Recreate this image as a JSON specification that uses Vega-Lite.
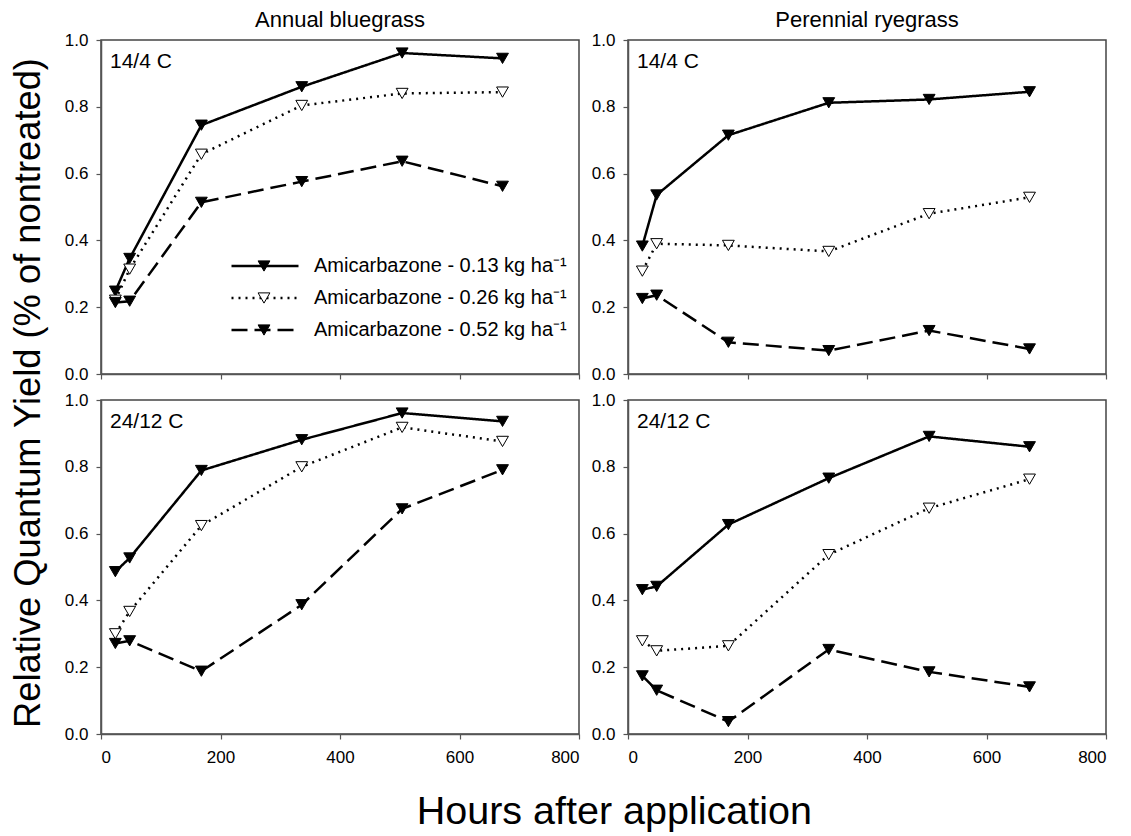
{
  "$schema": "https://vega.github.io/schema/vega-lite/v6.json",
  "padding": {"left": 11, "top": 8, "right": 20, "bottom": 4},
  "data": {"values": [
    {"sp": "Annual bluegrass", "temp": "14/4 C", "rate": 0.13, "h": 24, "y": 0.248},
    {"sp": "Annual bluegrass", "temp": "14/4 C", "rate": 0.13, "h": 48, "y": 0.346},
    {"sp": "Annual bluegrass", "temp": "14/4 C", "rate": 0.13, "h": 168, "y": 0.745},
    {"sp": "Annual bluegrass", "temp": "14/4 C", "rate": 0.13, "h": 336, "y": 0.86},
    {"sp": "Annual bluegrass", "temp": "14/4 C", "rate": 0.13, "h": 504, "y": 0.961},
    {"sp": "Annual bluegrass", "temp": "14/4 C", "rate": 0.13, "h": 672, "y": 0.945},
    {"sp": "Annual bluegrass", "temp": "14/4 C", "rate": 0.26, "h": 24, "y": 0.221},
    {"sp": "Annual bluegrass", "temp": "14/4 C", "rate": 0.26, "h": 48, "y": 0.314},
    {"sp": "Annual bluegrass", "temp": "14/4 C", "rate": 0.26, "h": 168, "y": 0.658},
    {"sp": "Annual bluegrass", "temp": "14/4 C", "rate": 0.26, "h": 336, "y": 0.804},
    {"sp": "Annual bluegrass", "temp": "14/4 C", "rate": 0.26, "h": 504, "y": 0.84},
    {"sp": "Annual bluegrass", "temp": "14/4 C", "rate": 0.26, "h": 672, "y": 0.844},
    {"sp": "Annual bluegrass", "temp": "14/4 C", "rate": 0.52, "h": 24, "y": 0.214},
    {"sp": "Annual bluegrass", "temp": "14/4 C", "rate": 0.52, "h": 48, "y": 0.218},
    {"sp": "Annual bluegrass", "temp": "14/4 C", "rate": 0.52, "h": 168, "y": 0.514},
    {"sp": "Annual bluegrass", "temp": "14/4 C", "rate": 0.52, "h": 336, "y": 0.576},
    {"sp": "Annual bluegrass", "temp": "14/4 C", "rate": 0.52, "h": 504, "y": 0.637},
    {"sp": "Annual bluegrass", "temp": "14/4 C", "rate": 0.52, "h": 672, "y": 0.562},
    {"sp": "Perennial ryegrass", "temp": "14/4 C", "rate": 0.13, "h": 24, "y": 0.383},
    {"sp": "Perennial ryegrass", "temp": "14/4 C", "rate": 0.13, "h": 48, "y": 0.536},
    {"sp": "Perennial ryegrass", "temp": "14/4 C", "rate": 0.13, "h": 168, "y": 0.715},
    {"sp": "Perennial ryegrass", "temp": "14/4 C", "rate": 0.13, "h": 336, "y": 0.812},
    {"sp": "Perennial ryegrass", "temp": "14/4 C", "rate": 0.13, "h": 504, "y": 0.822},
    {"sp": "Perennial ryegrass", "temp": "14/4 C", "rate": 0.13, "h": 672, "y": 0.845},
    {"sp": "Perennial ryegrass", "temp": "14/4 C", "rate": 0.26, "h": 24, "y": 0.308},
    {"sp": "Perennial ryegrass", "temp": "14/4 C", "rate": 0.26, "h": 48, "y": 0.39},
    {"sp": "Perennial ryegrass", "temp": "14/4 C", "rate": 0.26, "h": 168, "y": 0.385},
    {"sp": "Perennial ryegrass", "temp": "14/4 C", "rate": 0.26, "h": 336, "y": 0.367},
    {"sp": "Perennial ryegrass", "temp": "14/4 C", "rate": 0.26, "h": 504, "y": 0.48},
    {"sp": "Perennial ryegrass", "temp": "14/4 C", "rate": 0.26, "h": 672, "y": 0.529},
    {"sp": "Perennial ryegrass", "temp": "14/4 C", "rate": 0.52, "h": 24, "y": 0.226},
    {"sp": "Perennial ryegrass", "temp": "14/4 C", "rate": 0.52, "h": 48, "y": 0.236},
    {"sp": "Perennial ryegrass", "temp": "14/4 C", "rate": 0.52, "h": 168, "y": 0.095},
    {"sp": "Perennial ryegrass", "temp": "14/4 C", "rate": 0.52, "h": 336, "y": 0.07},
    {"sp": "Perennial ryegrass", "temp": "14/4 C", "rate": 0.52, "h": 504, "y": 0.13},
    {"sp": "Perennial ryegrass", "temp": "14/4 C", "rate": 0.52, "h": 672, "y": 0.075},
    {"sp": "Annual bluegrass", "temp": "24/12 C", "rate": 0.13, "h": 24, "y": 0.486},
    {"sp": "Annual bluegrass", "temp": "24/12 C", "rate": 0.13, "h": 48, "y": 0.527},
    {"sp": "Annual bluegrass", "temp": "24/12 C", "rate": 0.13, "h": 168, "y": 0.789},
    {"sp": "Annual bluegrass", "temp": "24/12 C", "rate": 0.13, "h": 336, "y": 0.881},
    {"sp": "Annual bluegrass", "temp": "24/12 C", "rate": 0.13, "h": 504, "y": 0.961},
    {"sp": "Annual bluegrass", "temp": "24/12 C", "rate": 0.13, "h": 672, "y": 0.936},
    {"sp": "Annual bluegrass", "temp": "24/12 C", "rate": 0.26, "h": 24, "y": 0.30},
    {"sp": "Annual bluegrass", "temp": "24/12 C", "rate": 0.26, "h": 48, "y": 0.367},
    {"sp": "Annual bluegrass", "temp": "24/12 C", "rate": 0.26, "h": 168, "y": 0.624},
    {"sp": "Annual bluegrass", "temp": "24/12 C", "rate": 0.26, "h": 336, "y": 0.80},
    {"sp": "Annual bluegrass", "temp": "24/12 C", "rate": 0.26, "h": 504, "y": 0.918},
    {"sp": "Annual bluegrass", "temp": "24/12 C", "rate": 0.26, "h": 672, "y": 0.876},
    {"sp": "Annual bluegrass", "temp": "24/12 C", "rate": 0.52, "h": 24, "y": 0.271},
    {"sp": "Annual bluegrass", "temp": "24/12 C", "rate": 0.52, "h": 48, "y": 0.279},
    {"sp": "Annual bluegrass", "temp": "24/12 C", "rate": 0.52, "h": 168, "y": 0.188},
    {"sp": "Annual bluegrass", "temp": "24/12 C", "rate": 0.52, "h": 336, "y": 0.387},
    {"sp": "Annual bluegrass", "temp": "24/12 C", "rate": 0.52, "h": 504, "y": 0.674},
    {"sp": "Annual bluegrass", "temp": "24/12 C", "rate": 0.52, "h": 672, "y": 0.791},
    {"sp": "Perennial ryegrass", "temp": "24/12 C", "rate": 0.13, "h": 24, "y": 0.432},
    {"sp": "Perennial ryegrass", "temp": "24/12 C", "rate": 0.13, "h": 48, "y": 0.442},
    {"sp": "Perennial ryegrass", "temp": "24/12 C", "rate": 0.13, "h": 168, "y": 0.627},
    {"sp": "Perennial ryegrass", "temp": "24/12 C", "rate": 0.13, "h": 336, "y": 0.766},
    {"sp": "Perennial ryegrass", "temp": "24/12 C", "rate": 0.13, "h": 504, "y": 0.891},
    {"sp": "Perennial ryegrass", "temp": "24/12 C", "rate": 0.13, "h": 672, "y": 0.86},
    {"sp": "Perennial ryegrass", "temp": "24/12 C", "rate": 0.26, "h": 24, "y": 0.279},
    {"sp": "Perennial ryegrass", "temp": "24/12 C", "rate": 0.26, "h": 48, "y": 0.249},
    {"sp": "Perennial ryegrass", "temp": "24/12 C", "rate": 0.26, "h": 168, "y": 0.264},
    {"sp": "Perennial ryegrass", "temp": "24/12 C", "rate": 0.26, "h": 336, "y": 0.537},
    {"sp": "Perennial ryegrass", "temp": "24/12 C", "rate": 0.26, "h": 504, "y": 0.676},
    {"sp": "Perennial ryegrass", "temp": "24/12 C", "rate": 0.26, "h": 672, "y": 0.763},
    {"sp": "Perennial ryegrass", "temp": "24/12 C", "rate": 0.52, "h": 24, "y": 0.174},
    {"sp": "Perennial ryegrass", "temp": "24/12 C", "rate": 0.52, "h": 48, "y": 0.131},
    {"sp": "Perennial ryegrass", "temp": "24/12 C", "rate": 0.52, "h": 168, "y": 0.037},
    {"sp": "Perennial ryegrass", "temp": "24/12 C", "rate": 0.52, "h": 336, "y": 0.253},
    {"sp": "Perennial ryegrass", "temp": "24/12 C", "rate": 0.52, "h": 504, "y": 0.186},
    {"sp": "Perennial ryegrass", "temp": "24/12 C", "rate": 0.52, "h": 672, "y": 0.141}
  ]},
  "title": {"text": "Hours after application", "orient": "bottom", "fontSize": 39.5, "anchor": "middle", "offset": 27, "dx": 55},
  "vconcat": [{
    "title": {"text": "Relative Quantum Yield (% of nontreated)", "orient": "left", "fontSize": 36.3, "anchor": "middle", "offset": 16, "dx": -6},
    "columns": 2,
    "spacing": {"row": 26, "column": 49},
    "bounds": "flush",
    "concat": [
      {
        "width": 478, "height": 334,
        "title": {"text": "Annual bluegrass"},
        "layer": [
          {"transform": [{"filter": "datum.sp === 'Annual bluegrass' && datum.temp === '14/4 C'"}],
           "mark": {"type": "line", "color": "black", "strokeWidth": 2.5},
           "encoding": {
             "x": {"field": "h", "type": "quantitative", "scale": {"domain": [0, 800], "nice": false}, "axis": {"values": [0, 200, 400, 600, 800], "labels": false, "title": null}},
             "y": {"field": "y", "type": "quantitative", "scale": {"domain": [0, 1], "nice": false}, "axis": {"values": [0, 0.2, 0.4, 0.6, 0.8, 1], "format": ".1f", "title": null}},
             "strokeDash": {"field": "rate", "type": "nominal", "scale": {"range": [[1, 0], [2, 5], [16, 7]]},
               "legend": {"orient": "none", "legendX": 154, "legendY": 216, "title": null, "symbolType": "M-6.7,0L6.7,0", "symbolSize": 100, "symbolStrokeColor": "black", "symbolStrokeWidth": 2.5, "labelFontSize": 20, "labelOffset": 39, "labelLimit": 0, "rowPadding": 12, "padding": 0, "zindex": 0, "labelExpr": "'Amicarbazone - ' + datum.label + ' kg ha⁻¹'"}}
           }},
          {"transform": [{"filter": "datum.sp === 'Annual bluegrass' && datum.temp === '14/4 C'"}],
           "mark": {"type": "point", "shape": "triangle-down", "filled": true, "size": 140, "stroke": "black", "strokeWidth": 1, "opacity": 1},
           "encoding": {
             "x": {"field": "h", "type": "quantitative"},
             "y": {"field": "y", "type": "quantitative"},
             "fill": {"field": "rate", "type": "nominal", "scale": {"domain": [0.13, 0.26, 0.52], "range": ["black", "white", "black"]},
               "legend": {"orient": "none", "legendX": 153, "legendY": 216, "title": null, "symbolType": "triangle-down", "symbolSize": 140, "symbolStrokeColor": "black", "symbolStrokeWidth": 1, "labelFontSize": 20, "labelExpr": "''", "rowPadding": 12, "padding": 0, "zindex": 1}}
           }},
          {"data": {"values": [{"t": "14/4 C"}]},
           "mark": {"type": "text", "align": "left", "baseline": "middle", "fontSize": 21},
           "encoding": {"x": {"datum": 15, "type": "quantitative"}, "y": {"datum": 0.933, "type": "quantitative"}, "text": {"field": "t"}}}
        ]
      },
      {
        "width": 478, "height": 334,
        "title": {"text": "Perennial ryegrass"},
        "layer": [
          {"transform": [{"filter": "datum.sp === 'Perennial ryegrass' && datum.temp === '14/4 C'"}],
           "mark": {"type": "line", "color": "black", "strokeWidth": 2.5},
           "encoding": {
             "x": {"field": "h", "type": "quantitative", "scale": {"domain": [0, 800], "nice": false}, "axis": {"values": [0, 200, 400, 600, 800], "labels": false, "title": null}},
             "y": {"field": "y", "type": "quantitative", "scale": {"domain": [0, 1], "nice": false}, "axis": {"values": [0, 0.2, 0.4, 0.6, 0.8, 1], "format": ".1f", "title": null}},
             "strokeDash": {"field": "rate", "type": "nominal", "scale": {"range": [[1, 0], [2, 5], [16, 7]]}, "legend": null}
           }},
          {"transform": [{"filter": "datum.sp === 'Perennial ryegrass' && datum.temp === '14/4 C'"}],
           "mark": {"type": "point", "shape": "triangle-down", "filled": true, "size": 140, "stroke": "black", "strokeWidth": 1, "opacity": 1},
           "encoding": {
             "x": {"field": "h", "type": "quantitative"},
             "y": {"field": "y", "type": "quantitative"},
             "fill": {"field": "rate", "type": "nominal", "scale": {"domain": [0.13, 0.26, 0.52], "range": ["black", "white", "black"]}, "legend": null}
           }},
          {"data": {"values": [{"t": "14/4 C"}]},
           "mark": {"type": "text", "align": "left", "baseline": "middle", "fontSize": 21},
           "encoding": {"x": {"datum": 15, "type": "quantitative"}, "y": {"datum": 0.933, "type": "quantitative"}, "text": {"field": "t"}}}
        ]
      },
      {
        "width": 478, "height": 334,
        "layer": [
          {"transform": [{"filter": "datum.sp === 'Annual bluegrass' && datum.temp === '24/12 C'"}],
           "mark": {"type": "line", "color": "black", "strokeWidth": 2.5},
           "encoding": {
             "x": {"field": "h", "type": "quantitative", "scale": {"domain": [0, 800], "nice": false}, "axis": {"values": [0, 200, 400, 600, 800], "title": null}},
             "y": {"field": "y", "type": "quantitative", "scale": {"domain": [0, 1], "nice": false}, "axis": {"values": [0, 0.2, 0.4, 0.6, 0.8, 1], "format": ".1f", "title": null}},
             "strokeDash": {"field": "rate", "type": "nominal", "scale": {"range": [[1, 0], [2, 5], [16, 7]]}, "legend": null}
           }},
          {"transform": [{"filter": "datum.sp === 'Annual bluegrass' && datum.temp === '24/12 C'"}],
           "mark": {"type": "point", "shape": "triangle-down", "filled": true, "size": 140, "stroke": "black", "strokeWidth": 1, "opacity": 1},
           "encoding": {
             "x": {"field": "h", "type": "quantitative"},
             "y": {"field": "y", "type": "quantitative"},
             "fill": {"field": "rate", "type": "nominal", "scale": {"domain": [0.13, 0.26, 0.52], "range": ["black", "white", "black"]}, "legend": null}
           }},
          {"data": {"values": [{"t": "24/12 C"}]},
           "mark": {"type": "text", "align": "left", "baseline": "middle", "fontSize": 21},
           "encoding": {"x": {"datum": 15, "type": "quantitative"}, "y": {"datum": 0.933, "type": "quantitative"}, "text": {"field": "t"}}}
        ]
      },
      {
        "width": 478, "height": 334,
        "layer": [
          {"transform": [{"filter": "datum.sp === 'Perennial ryegrass' && datum.temp === '24/12 C'"}],
           "mark": {"type": "line", "color": "black", "strokeWidth": 2.5},
           "encoding": {
             "x": {"field": "h", "type": "quantitative", "scale": {"domain": [0, 800], "nice": false}, "axis": {"values": [0, 200, 400, 600, 800], "title": null}},
             "y": {"field": "y", "type": "quantitative", "scale": {"domain": [0, 1], "nice": false}, "axis": {"values": [0, 0.2, 0.4, 0.6, 0.8, 1], "format": ".1f", "title": null}},
             "strokeDash": {"field": "rate", "type": "nominal", "scale": {"range": [[1, 0], [2, 5], [16, 7]]}, "legend": null}
           }},
          {"transform": [{"filter": "datum.sp === 'Perennial ryegrass' && datum.temp === '24/12 C'"}],
           "mark": {"type": "point", "shape": "triangle-down", "filled": true, "size": 140, "stroke": "black", "strokeWidth": 1, "opacity": 1},
           "encoding": {
             "x": {"field": "h", "type": "quantitative"},
             "y": {"field": "y", "type": "quantitative"},
             "fill": {"field": "rate", "type": "nominal", "scale": {"domain": [0.13, 0.26, 0.52], "range": ["black", "white", "black"]}, "legend": null}
           }},
          {"data": {"values": [{"t": "24/12 C"}]},
           "mark": {"type": "text", "align": "left", "baseline": "middle", "fontSize": 21},
           "encoding": {"x": {"datum": 15, "type": "quantitative"}, "y": {"datum": 0.933, "type": "quantitative"}, "text": {"field": "t"}}}
        ]
      }
    ]
  }],
  "config": {
    "font": "Liberation Sans",
    "view": {"stroke": "#444", "strokeWidth": 1.5},
    "axis": {"domainColor": "#555", "domainWidth": 1.5, "tickColor": "#555", "tickWidth": 1.2, "tickSize": 5, "labelFontSize": 17, "labelColor": "black", "labelFont": "Liberation Sans", "grid": false},
    "axisX": {"labelPadding": 10},
    "axisY": {"labelPadding": 8},
    "title": {"fontSize": 22, "fontWeight": "normal", "color": "black", "font": "Liberation Sans", "offset": -1},
    "legend": {"labelFont": "Liberation Sans", "labelColor": "black"},
    "text": {"font": "Liberation Sans", "color": "black"}
  }
}
